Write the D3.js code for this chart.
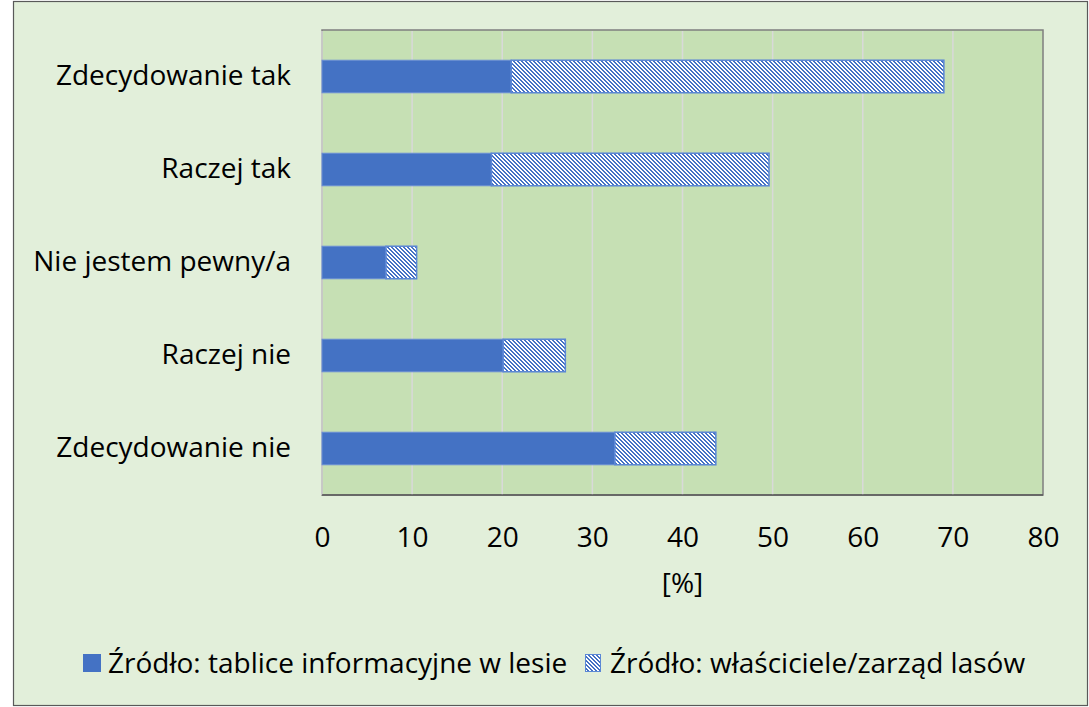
<!DOCTYPE html>
<meta charset="utf-8">
<style>
body {
  margin: 0;
  background-color: #fff;
}

text {
  font-family: "Open Sans", "Noto Sans", sans-serif;
  fill: #000;
}

.grid line {
  stroke: #d9d9d9;
  stroke-width: 1.5px;
}
</style>
<body>

<script src="https://cdnjs.cloudflare.com/ajax/libs/d3/7.8.5/d3.min.js"></script>
<script>

// the data
var categories = ["Zdecydowanie tak", "Raczej tak", "Nie jestem pewny/a", "Raczej nie", "Zdecydowanie nie"];
var tablice = [21.0, 18.8, 7.1, 20.1, 32.5];      // Źródło: tablice informacyjne w lesie
var wlasciciele = [48.0, 30.8, 3.4, 6.9, 11.2];   // Źródło: właściciele/zarząd lasów
var xTicks = [0, 10, 20, 30, 40, 50, 60, 70, 80];
var seriesNames = ["Źródło: tablice informacyjne w lesie", "Źródło: właściciele/zarząd lasów"];

// plot area
var plot = {left: 322, right: 1043, top: 30, bottom: 495};
var fontSize = "28px";

var svg = d3.select("body").append("svg")
    .attr("width", 1089)
    .attr("height", 707);

// hatched fill for the 2nd series: 4x4 pixel staircase, like Excel's wide downward diagonal
var defs = svg.append("defs");
var pat = defs.append("pattern")
    .attr("id", "hatch")
    .attr("patternUnits", "userSpaceOnUse")
    .attr("width", 4)
    .attr("height", 4);
pat.append("rect")
    .attr("width", 4)
    .attr("height", 4)
    .attr("fill", "#fff");
pat.selectAll("rect.px")
    .data([0, 1, 2, 3])
  .enter().append("rect")
    .attr("class", "px")
    .attr("x", function(r) { return r; })
    .attr("y", function(r) { return r; })
    .attr("width", 2)
    .attr("height", 1)
    .attr("fill", "#4472c4");
pat.append("rect")
    .attr("x", 0)
    .attr("y", 3)
    .attr("width", 1)
    .attr("height", 1)
    .attr("fill", "#4472c4");

// outer chart box
svg.append("rect")
    .attr("x", 13.5)
    .attr("y", 1.5)
    .attr("width", 1074)
    .attr("height", 704)
    .attr("fill", "#e2efda")
    .attr("stroke", "#595959")
    .attr("stroke-width", 1.2);

// plot background
svg.append("rect")
    .attr("x", plot.left)
    .attr("y", plot.top)
    .attr("width", plot.right - plot.left)
    .attr("height", plot.bottom - plot.top)
    .attr("fill", "#c6e0b4")
    .attr("stroke", "#7f7f7f")
    .attr("stroke-width", 1.5);

// scales
var x = d3.scaleLinear().domain([0, 80]).range([plot.left, plot.right]);
var y = d3.scaleBand().domain(categories).range([plot.top, plot.bottom])
    .paddingInner(0.65)
    .paddingOuter(0.325);

// vertical gridlines
svg.append("g")
    .attr("class", "grid")
  .selectAll("line")
    .data(xTicks.slice(0, -1))
  .enter().append("line")
    .attr("x1", function(d) { return x(d); })
    .attr("x2", function(d) { return x(d); })
    .attr("y1", plot.top + 1)
    .attr("y2", plot.bottom);

// bars, 1st series
svg.append("g").selectAll("rect")
    .data(categories)
  .enter().append("rect")
    .attr("x", x(0))
    .attr("y", function(d) { return y(d); })
    .attr("width", function(d, i) { return x(tablice[i]) - x(0); })
    .attr("height", y.bandwidth())
    .attr("fill", "#4472c4")
    .attr("stroke", "#6a8fd4")
    .attr("stroke-width", 1);

// bars, 2nd series stacked on top
svg.append("g").selectAll("rect")
    .data(categories)
  .enter().append("rect")
    .attr("x", function(d, i) { return x(tablice[i]); })
    .attr("y", function(d) { return y(d); })
    .attr("width", function(d, i) { return x(tablice[i] + wlasciciele[i]) - x(tablice[i]); })
    .attr("height", y.bandwidth())
    .attr("fill", "url(#hatch)")
    .attr("stroke", "#5b87d6")
    .attr("stroke-width", 1.5);

// x axis line
svg.append("line")
    .attr("x1", plot.left)
    .attr("x2", plot.right)
    .attr("y1", plot.bottom)
    .attr("y2", plot.bottom)
    .attr("stroke", "#595959")
    .attr("stroke-width", 1.5);

// x axis
var xAxis = svg.append("g")
    .attr("transform", "translate(0," + (plot.bottom + 32) + ")")
    .call(d3.axisBottom(x).tickValues(xTicks).tickSize(0).tickPadding(0));
xAxis.select(".domain").remove();
xAxis.selectAll("text")
    .attr("dy", "0.71em")
    .style("font-size", fontSize)
    .style("font-family", "'Open Sans', sans-serif")
    .attr("fill", "#000");

// y axis (category labels)
var yAxis = svg.append("g")
    .attr("transform", "translate(" + (plot.left - 31) + ",0)")
    .call(d3.axisLeft(y).tickSize(0).tickPadding(0));
yAxis.select(".domain").remove();
yAxis.selectAll("text")
    .style("font-size", fontSize)
    .style("font-family", "'Open Sans', sans-serif")
    .attr("fill", "#000");

// axis title
svg.append("text")
    .attr("x", (plot.left + plot.right) / 2)
    .attr("y", 593)
    .attr("text-anchor", "middle")
    .style("font-size", fontSize)
    .text("[%]");

// legend
var legend = svg.append("g").attr("transform", "translate(83,654)");
legend.append("rect")
    .attr("width", 18)
    .attr("height", 18)
    .attr("fill", "#4472c4");
legend.append("text")
    .attr("x", 25)
    .attr("y", 19)
    .style("font-size", fontSize)
    .text(seriesNames[0]);
legend.append("rect")
    .attr("x", 502.5)
    .attr("y", 0.5)
    .attr("width", 15)
    .attr("height", 17)
    .attr("fill", "url(#hatch)")
    .attr("stroke", "#5b87d6")
    .attr("stroke-width", 1);
legend.append("text")
    .attr("x", 527)
    .attr("y", 19)
    .style("font-size", fontSize)
    .text(seriesNames[1]);

</script>
</body>
